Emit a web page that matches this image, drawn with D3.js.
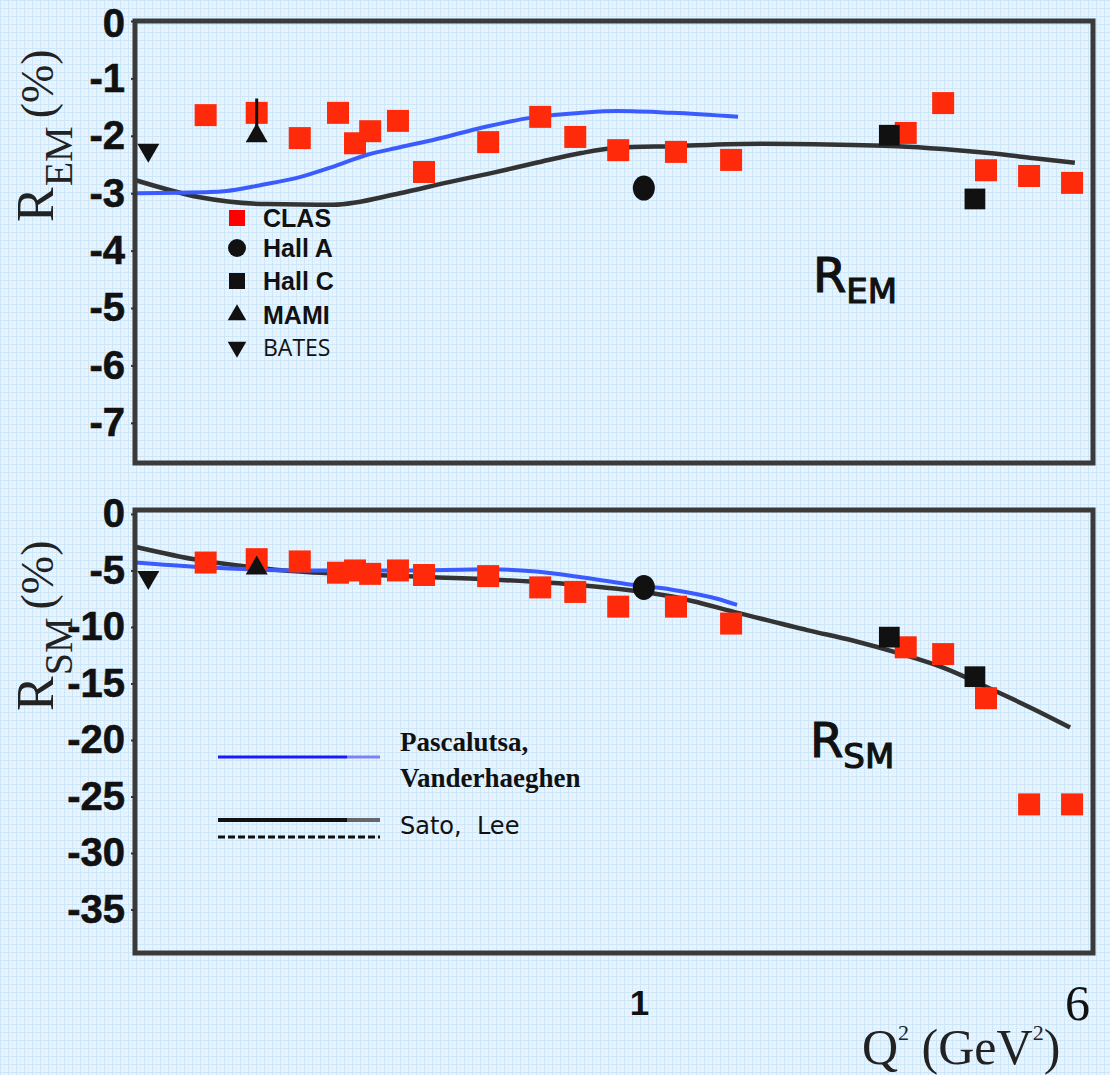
<!DOCTYPE html>
<html>
<head>
<meta charset="utf-8">
<script src="https://cdn.jsdelivr.net/npm/d3@7"></script>
<style>
  body { margin: 0; background: #eaf5fd; }
  svg { display: block; }
</style>
</head>
<body>
<svg id="chart" width="1110" height="1075"></svg>
<script>
// ---- data (Q^2 in GeV^2, ratios in %) ----
const clasQ2 = [0.165, 0.204, 0.244, 0.286, 0.307, 0.327, 0.367, 0.409, 0.534, 0.663, 0.767, 0.917, 1.166, 1.466, 3.03, 3.54, 4.23, 5.06, 6.05];
const clasREM = [-1.64, -1.60, -2.04, -1.60, -2.13, -1.92, -1.74, -2.63, -2.11, -1.67, -2.02, -2.25, -2.28, -2.42, -1.95, -1.43, -2.60, -2.70, -2.82];
const clasRSM = [-4.3, -4.0, -4.2, -5.2, -5.0, -5.3, -5.0, -5.4, -5.5, -6.5, -6.9, -8.2, -8.2, -9.7, -11.8, -12.4, -16.3, -25.7, -25.7];

const hallAQ2 = [1.02];
const hallAREM = [-2.91];
const hallARSM = [-6.5];

const hallCQ2 = [2.83, 4.04];
const hallCREM = [-1.99, -3.10];
const hallCRSM = [-10.9, -14.4];

const mamiQ2 = [0.204];
const mamiREM = [-2.0];
const mamiREMTop = [-1.35];
const mamiRSM = [-4.8];

const batesQ2 = [0.130];
const batesREM = [-2.25];
const batesRSM = [-5.6];

// Pascalutsa, Vanderhaeghen
const pvREMQ2 = [0.123, 0.148, 0.168, 0.180, 0.207, 0.244, 0.280, 0.323, 0.370, 0.447, 0.519, 0.652, 0.786, 0.913, 1.147, 1.509];
const pvREM = [-3.00, -2.99, -2.98, -2.96, -2.86, -2.72, -2.54, -2.33, -2.20, -2.02, -1.86, -1.67, -1.60, -1.57, -1.60, -1.67];
const pvRSMQ2 = [0.123, 0.161, 0.244, 0.370, 0.541, 0.652, 0.786, 0.947, 1.147, 1.383, 1.503];
const pvRSM = [-4.3, -4.7, -5.0, -5.0, -4.9, -5.1, -5.6, -6.2, -6.7, -7.5, -8.05];

// Sato, Lee
const slREMQ2 = [0.123, 0.161, 0.213, 0.280, 0.370, 0.447, 0.541, 0.652, 0.786, 0.913, 1.147, 1.667, 2.43, 2.93, 3.54, 4.28, 5.17, 6.12];
const slREM = [-2.77, -3.07, -3.19, -3.20, -3.00, -2.82, -2.65, -2.47, -2.30, -2.21, -2.18, -2.14, -2.16, -2.18, -2.23, -2.30, -2.39, -2.47];
const slRSMQ2 = [0.123, 0.161, 0.199, 0.244, 0.370, 0.541, 0.786, 0.947, 1.147, 1.521, 2.02, 2.43, 2.93, 3.54, 4.28, 5.17, 6.0];
const slRSM = [-2.9, -4.1, -4.7, -5.1, -5.5, -5.8, -6.3, -6.7, -7.3, -8.8, -10.3, -11.2, -12.3, -13.6, -15.4, -17.3, -18.9];

const emTicks = [0, -1, -2, -3, -4, -5, -6, -7];
const smTicks = [0, -5, -10, -15, -20, -25, -30, -35];
const xTicks = [1];
const legendNames = ['CLAS', 'Hall A', 'Hall C', 'MAMI', 'BATES'];

// ---- layout ----
const svg = d3.select('#chart');
const left = 135, right = 1093;
const x = d3.scaleLog().domain([0.123, 6.6]).range([left, right]);
const yEM = d3.scaleLinear().domain([0, -7.7]).range([21, 463]);
const ySM = d3.scaleLinear().domain([0.35, -38.85]).range([510, 953]);

// slide background with faint grid
const defs = svg.append('defs');
const pat = defs.append('pattern').attr('id', 'grid')
  .attr('width', 8).attr('height', 8).attr('patternUnits', 'userSpaceOnUse');
pat.append('rect').attr('width', 8).attr('height', 8).attr('fill', '#e9f5fe');
pat.append('path').attr('d', 'M0 4.5H8M4.5 0V8').attr('stroke', '#dfeffb').attr('stroke-width', 1);
pat.append('path').attr('d', 'M0 0.5H8M0.5 0V8').attr('stroke', '#cde6f8').attr('stroke-width', 1);
svg.append('rect').attr('width', 1110).attr('height', 1075).attr('fill', 'url(#grid)');

const sym = (type, size) => d3.symbol().type(type).size(size)();
const red = '#ff2a0a';
const ink = '#111';

function panel(y, ticks, data) {
  const g = svg.append('g');

  // curves
  const line = d3.line().x(d => x(d[0])).y(d => y(d[1])).curve(d3.curveMonotoneX);
  g.append('path').datum(d3.zip(data.slQ2, data.sl))
    .attr('d', line).attr('fill', 'none').attr('stroke', '#333').attr('stroke-width', 4.5);
  g.append('path').datum(d3.zip(data.pvQ2, data.pv))
    .attr('d', line).attr('fill', 'none').attr('stroke', '#3a5cff').attr('stroke-width', 4);

  // CLAS
  g.selectAll('.clas').data(d3.zip(clasQ2, data.clas)).join('path')
    .attr('class', 'clas')
    .attr('transform', d => `translate(${x(d[0])},${y(d[1])})`)
    .attr('d', sym(d3.symbolSquare, 484)).attr('fill', red);

  // Hall C
  g.selectAll('.hallc').data(d3.zip(hallCQ2, data.hallC)).join('path')
    .attr('class', 'hallc')
    .attr('transform', d => `translate(${x(d[0])},${y(d[1])})`)
    .attr('d', sym(d3.symbolSquare, 430)).attr('fill', ink);

  // Hall A
  g.selectAll('.halla').data(d3.zip(hallAQ2, data.hallA)).join('ellipse')
    .attr('class', 'halla')
    .attr('cx', d => x(d[0])).attr('cy', d => y(d[1]))
    .attr('rx', 11).attr('ry', 12.5).attr('fill', ink);

  // MAMI
  if (data.mamiTop) {
    g.selectAll('.mamierr').data(d3.zip(mamiQ2, data.mami, data.mamiTop)).join('line')
      .attr('class', 'mamierr')
      .attr('x1', d => x(d[0])).attr('x2', d => x(d[0]))
      .attr('y1', d => y(d[1])).attr('y2', d => y(d[2]))
      .attr('stroke', ink).attr('stroke-width', 3);
  }
  g.selectAll('.mami').data(d3.zip(mamiQ2, data.mami)).join('path')
    .attr('class', 'mami')
    .attr('transform', d => `translate(${x(d[0])},${y(d[1])})`)
    .attr('d', sym(d3.symbolTriangle, 210)).attr('fill', ink);

  // BATES
  g.selectAll('.bates').data(d3.zip(batesQ2, data.bates)).join('path')
    .attr('class', 'bates')
    .attr('transform', d => `translate(${x(d[0])},${y(d[1])}) rotate(180)`)
    .attr('d', sym(d3.symbolTriangle, 210)).attr('fill', ink);

  // frame
  const [y0, y1] = y.range();
  g.append('rect').attr('x', left).attr('y', y0).attr('width', right - left).attr('height', y1 - y0)
    .attr('fill', 'none').attr('stroke', '#3a3a3a').attr('stroke-width', 5);

  // y axis
  const ax = g.append('g').attr('transform', `translate(${left},0)`)
    .call(d3.axisLeft(y).tickValues(ticks).tickFormat(d => String(d)).tickSize(4).tickPadding(6));
  ax.select('.domain').remove();
  ax.selectAll('line').attr('stroke', '#333').attr('stroke-width', 2);
  ax.selectAll('text')
    .attr('font-family', '"Liberation Sans", Arial, sans-serif')
    .attr('font-weight', 'bold').attr('font-size', 40).attr('fill', ink)
    .attr('stroke', ink).attr('stroke-width', 0.6);
  return ax;
}

const axEM = panel(yEM, emTicks, {
  clas: clasREM, hallA: hallAREM, hallC: hallCREM, mami: mamiREM, mamiTop: mamiREMTop, bates: batesREM,
  pvQ2: pvREMQ2, pv: pvREM, slQ2: slREMQ2, sl: slREM
});
// keep the topmost "0" inside the picture
axEM.selectAll('.tick').filter(d => d === 0).select('text').attr('y', 3);
panel(ySM, smTicks, {
  clas: clasRSM, hallA: hallARSM, hallC: hallCRSM, mami: mamiRSM, bates: batesRSM,
  pvQ2: pvRSMQ2, pv: pvRSM, slQ2: slRSMQ2, sl: slRSM
});

// x axis: only the "1" label
const xa = svg.append('g').attr('transform', `translate(0,${ySM.range()[1]})`)
  .call(d3.axisBottom(x).tickValues(xTicks).tickFormat(d => String(d)).tickSize(0).tickPadding(37));
xa.select('.domain').remove();
xa.selectAll('text').attr('font-family', '"Liberation Sans", Arial, sans-serif')
  .attr('font-weight', 'bold').attr('font-size', 35).attr('fill', ink);

// y titles
function yTitle(px, py, sub) {
  const t = svg.append('text').attr('transform', `translate(${px},${py}) rotate(-90)`)
    .attr('font-family', '"Liberation Serif", "Times New Roman", serif').attr('fill', '#222');
  t.append('tspan').attr('font-size', 52).text('R');
  t.append('tspan').attr('font-size', 40).attr('dy', 19).attr('dx', 1).text(sub);
  t.append('tspan').attr('font-size', 46).attr('dy', -19).attr('dx', 8).text('(%)');
}
yTitle(53, 222, 'EM');
yTitle(53, 711, 'SM');

// x title + slide number
const xt = svg.append('text').attr('x', 862).attr('y', 1064)
  .attr('font-family', '"Liberation Serif", "Times New Roman", serif').attr('font-size', 50)
  .attr('fill', '#222');
xt.append('tspan').text('Q');
xt.append('tspan').attr('font-size', 22).attr('dy', -24).text('2');
xt.append('tspan').attr('dy', 24).text(' (GeV');
xt.append('tspan').attr('font-size', 22).attr('dy', -24).text('2');
xt.append('tspan').attr('dy', 24).text(')');
svg.append('text').attr('x', 1090).attr('y', 1020).attr('text-anchor', 'end')
  .attr('font-family', '"Liberation Serif", "Times New Roman", serif').attr('font-size', 50).attr('fill', ink)
  .text('6');

// panel labels
function panelLabel(px, py, sub) {
  const t = svg.append('text').attr('x', px).attr('y', py)
    .attr('font-family', '"DejaVu Sans", sans-serif').attr('fill', ink)
    .attr('stroke', ink).attr('stroke-width', 1.2);
  t.append('tspan').attr('font-size', 48).text('R');
  t.append('tspan').attr('font-size', 34).attr('dy', 11).text(sub);
}
panelLabel(813, 292, 'EM');
panelLabel(810, 757, 'SM');

// data legend (top panel)
const legY = [218, 248, 281, 315, 347];
const legSyms = [
  {d: sym(d3.symbolSquare, 256), fill: '#ff0000', rot: 0},
  {d: sym(d3.symbolCircle, 254), fill: ink, rot: 0},
  {d: sym(d3.symbolSquare, 256), fill: ink, rot: 0},
  {d: sym(d3.symbolTriangle, 150), fill: ink, rot: 0},
  {d: sym(d3.symbolTriangle, 150), fill: ink, rot: 180}
];
const leg = svg.append('g');
leg.selectAll('path').data(legSyms).join('path')
  .attr('transform', (d, i) => `translate(237,${legY[i]}) rotate(${d.rot})`)
  .attr('d', d => d.d).attr('fill', d => d.fill);
leg.selectAll('text').data(legendNames).join('text')
  .attr('x', 263).attr('y', (d, i) => legY[i] + 9)
  .attr('font-family', (d, i) => i === 4 ? '"Open Sans", sans-serif' : '"Liberation Sans", Arial, sans-serif')
  .attr('font-weight', (d, i) => i === 4 ? 'normal' : 'bold')
  .attr('font-size', (d, i) => i === 4 ? 23 : 25)
  .attr('fill', ink)
  .text(d => d);

// model legend (bottom panel)
const ml = svg.append('g');
ml.append('line').attr('x1', 218).attr('x2', 347).attr('y1', 757).attr('y2', 757).attr('stroke', '#1a1aff').attr('stroke-width', 3);
ml.append('line').attr('x1', 347).attr('x2', 380).attr('y1', 757).attr('y2', 757).attr('stroke', '#8080ff').attr('stroke-width', 3);
ml.append('line').attr('x1', 218).attr('x2', 347).attr('y1', 820).attr('y2', 820).attr('stroke', '#111').attr('stroke-width', 4);
ml.append('line').attr('x1', 347).attr('x2', 380).attr('y1', 820).attr('y2', 820).attr('stroke', '#666').attr('stroke-width', 4);
ml.append('line').attr('x1', 218).attr('x2', 380).attr('y1', 837).attr('y2', 837).attr('stroke', '#111')
  .attr('stroke-width', 3).attr('stroke-dasharray', '7,3');
const serif = '"Liberation Serif", "Times New Roman", serif';
ml.append('text').attr('x', 400).attr('y', 751).attr('font-family', serif).attr('font-weight', 'bold')
  .attr('font-size', 27).attr('fill', ink).text('Pascalutsa,');
ml.append('text').attr('x', 400).attr('y', 787).attr('font-family', serif).attr('font-weight', 'bold')
  .attr('font-size', 27).attr('fill', ink).text('Vanderhaeghen');
ml.append('text').attr('x', 400).attr('y', 834).attr('font-family', '"DejaVu Sans", sans-serif')
  .attr('font-size', 24).attr('fill', ink).attr('xml:space', 'preserve').text('Sato,  Lee');
</script>
</body>
</html>
